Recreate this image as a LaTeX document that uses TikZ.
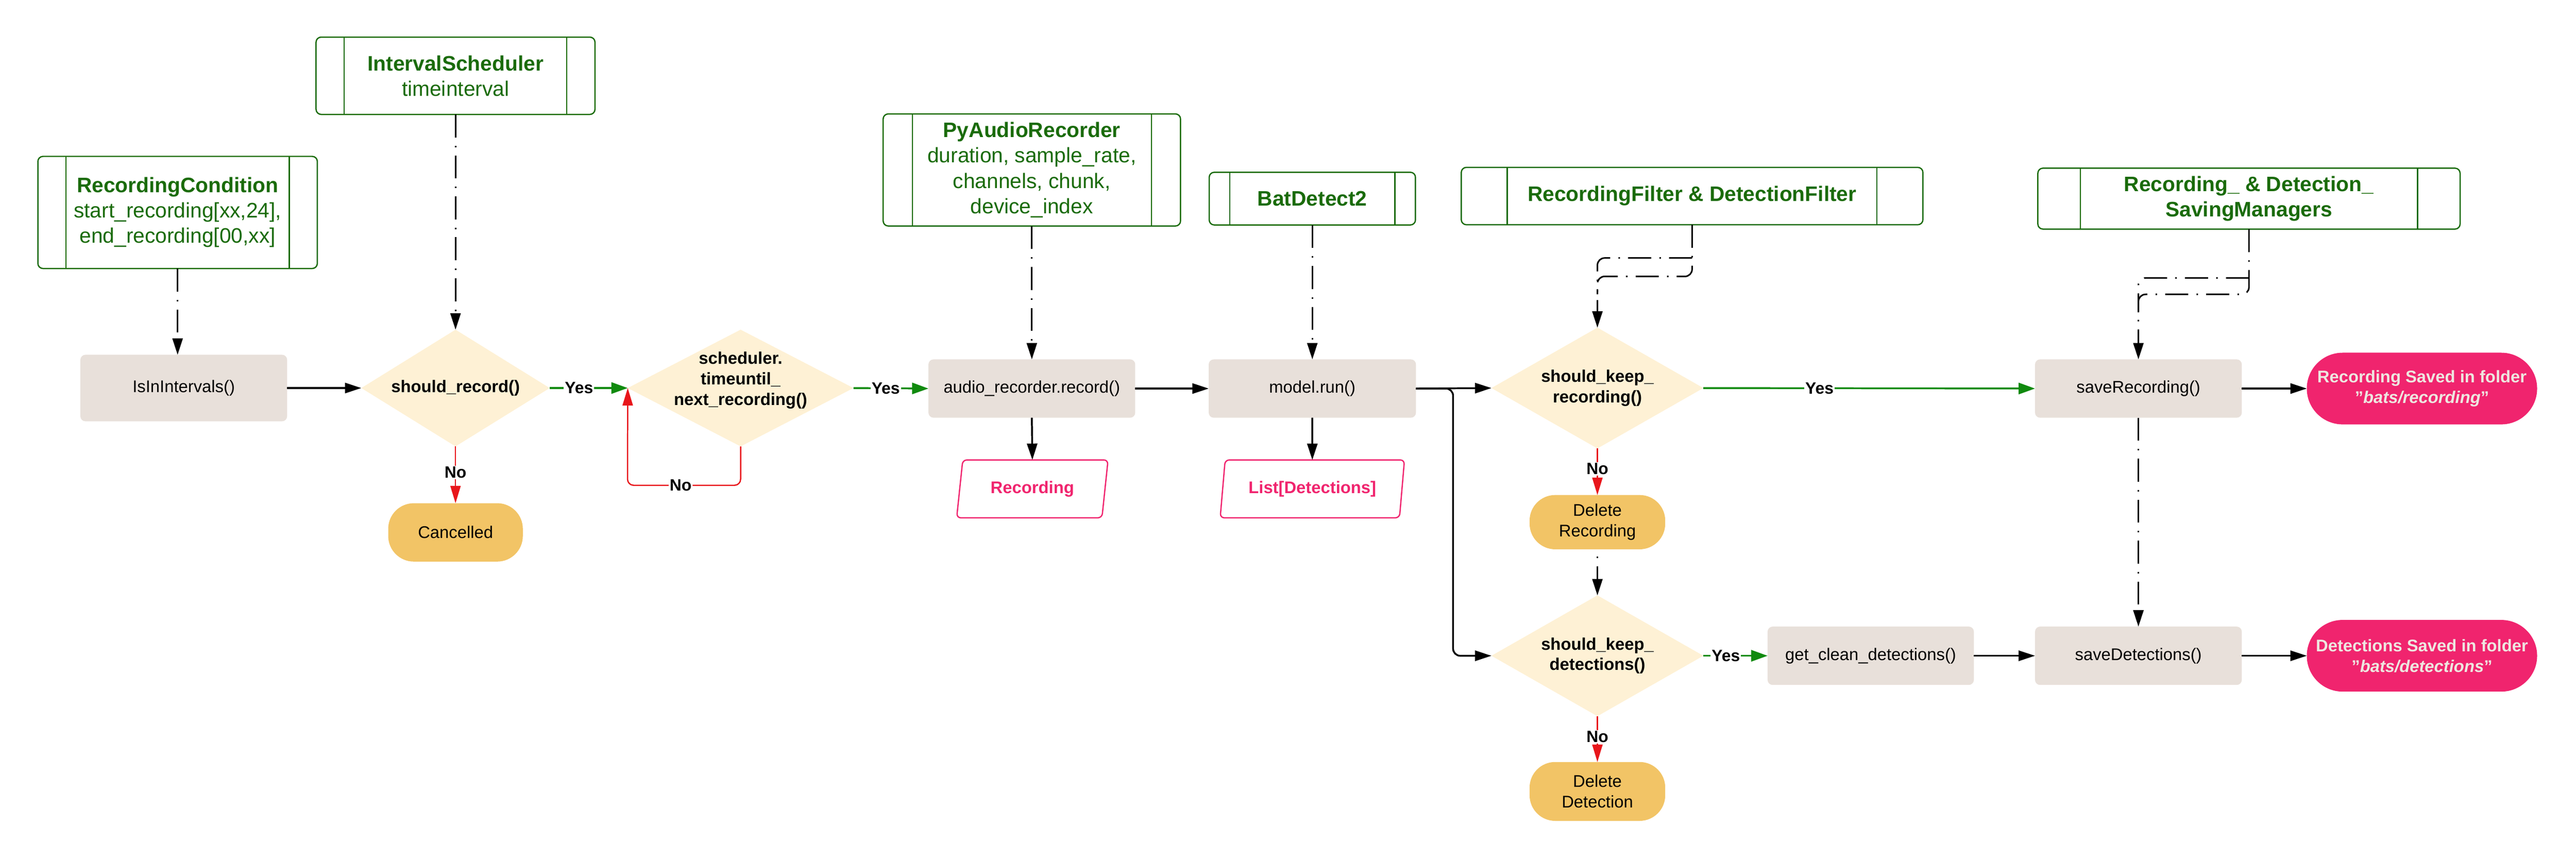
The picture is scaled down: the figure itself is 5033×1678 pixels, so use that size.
\documentclass[tikz,border=0pt]{standalone}
\usepackage{fontspec}
\setmainfont{Liberation Sans}
\usetikzlibrary{arrows.meta, shapes.geometric}
\definecolor{gtxt}{HTML}{1A6B0A}
\definecolor{gboxc}{HTML}{E8E0DA}
\definecolor{dfill}{HTML}{FEF1D5}
\definecolor{ofill}{HTML}{F2C466}
\definecolor{pinkc}{HTML}{F0246E}
\definecolor{ptxt}{HTML}{EEE6E0}
\definecolor{arrgreen}{HTML}{108A0E}
\definecolor{arrred}{HTML}{E8161B}
\tikzset{
  every node/.style={outer sep=0pt, font=\fontsize{33}{40}\selectfont},
  gbox/.style={draw=gtxt, line width=2.5pt, rounded corners=10pt, fill=white, text=gtxt,
    align=center, font=\fontsize{41}{49.5}\selectfont, inner sep=0pt},
  gline/.style={draw=gtxt, line width=2.5pt},
  proc/.style={fill=gboxc, rounded corners=10pt, minimum width=404pt, minimum height=114pt,
    inner sep=0pt, text=black},
  dec/.style={diamond, fill=dfill, inner sep=0pt},
  dtext/.style={font=\bfseries\fontsize{33}{40}\selectfont, align=center, inner sep=0pt},
  term/.style={fill=ofill, rounded corners=50pt, minimum width=265pt, minimum height=106pt,
    align=center, inner sep=0pt},
  pend/.style={fill=pinkc, rounded corners=70pt, minimum width=450pt, minimum height=140pt,
    text=ptxt, font=\bfseries\fontsize{33}{40}\selectfont, align=center, inner sep=0pt},
  para/.style={trapezium, trapezium left angle=77, trapezium right angle=103,
    trapezium stretches=true, draw=pinkc, line width=2.5pt, rounded corners=8pt,
    minimum width=296pt, minimum height=113pt, text=pinkc,
    font=\bfseries\fontsize{33}{40}\selectfont, inner sep=0pt},
  blk/.style={draw=black, line width=3.5pt, -{Triangle[length=32pt,width=20pt]}},
  grn/.style={draw=arrgreen, line width=3.5pt, -{Triangle[length=32pt,width=22pt]}},
  rd/.style={draw=arrred, line width=2.5pt, -{Triangle[length=34pt,width=20pt]}},
  ddash/.style={draw=black, line width=3pt, dash pattern=on 45pt off 16pt on 3pt off 16pt},
  dda/.style={ddash, -{Triangle[length=32pt,width=20pt]}},
  lbl/.style={fill=white, inner sep=2pt, font=\bfseries\fontsize{32}{38}\selectfont, text=black},
}
\begin{document}
\begin{tikzpicture}[x=1pt, y=-1pt]
\useasboundingbox (0,0) rectangle (5033,1678);

% green component boxes
\node[gbox, minimum width=546pt, minimum height=219pt] (rc) at (347,415)
  {\textbf{RecordingCondition}\\start\_recording[xx,24],\\end\_recording[00,xx]};
\node[gbox, minimum width=545pt, minimum height=151pt] (is) at (890,148)
  {\textbf{IntervalScheduler}\\timeinterval};
\node[gbox, minimum width=581pt, minimum height=219pt] (pa) at (2016,332)
  {\textbf{PyAudioRecorder}\\duration, sample\_rate,\\channels, chunk,\\device\_index};
\node[gbox, minimum width=403pt, minimum height=103pt] (bd) at (2564,388)
  {\textbf{BatDetect2}};
\node[gbox, minimum width=902pt, minimum height=112pt] (rf) at (3306,383)
  {\textbf{RecordingFilter \& DetectionFilter}};
\node[gbox, minimum width=825pt, minimum height=119pt] (sm) at (4394,388)
  {\textbf{Recording\_ \& Detection\_}\\\textbf{SavingManagers}};
\foreach \n/\d in {rc/55, is/55, pa/57, bd/40, rf/90, sm/83}{
  \draw[gline] ([xshift=\d pt]\n.north west) -- ([xshift=\d pt]\n.south west);
  \draw[gline] ([xshift=-\d pt]\n.north east) -- ([xshift=-\d pt]\n.south east);
}

% process boxes
\node[proc, minimum height=130pt] (ii) at (359,758) {IsInIntervals()};
\node[proc] (ar) at (2016,759) {audio\_recorder.record()};
\node[proc, minimum width=405pt] (mr) at (2564,759) {model.run()};
\node[proc] (sr) at (4178,759) {saveRecording()};
\node[proc, minimum width=403pt] (gc) at (3655,1281) {get\_clean\_detections()};
\node[proc] (sd) at (4178,1281) {saveDetections()};

% decisions
\node[dec, minimum width=368pt, minimum height=228pt,
  label={[dtext]center:should\_record()}] (d1) at (890,758) {};
\node[dec, minimum width=441pt, minimum height=228pt,
  label={[dtext,yshift=15pt]center:scheduler.\\timeuntil\_\\next\_recording()}] (d2) at (1447,758) {};
\node[dec, minimum width=414pt, minimum height=236pt,
  label={[dtext]center:should\_keep\_\\recording()}] (kr) at (3121,758) {};
\node[dec, minimum width=414pt, minimum height=236pt,
  label={[dtext]center:should\_keep\_\\detections()}] (kd) at (3121,1281) {};

% terminals
\node[term, minimum width=263pt, minimum height=114pt] (can) at (890,1040) {Cancelled};
\node[term] (drec) at (3121,1020) {Delete\\Recording};
\node[term, minimum height=115pt] (ddet) at (3121,1546) {Delete\\Detection};
\node[pend] (rs) at (4732,759) {Recording Saved in folder\\\symbol{34}\textit{bats/recording}\symbol{34}};
\node[pend] (ds) at (4732,1281) {Detections Saved in folder\\\symbol{34}\textit{bats/detections}\symbol{34}};

% data
\node[para] (rec) at (2017,955) {Recording};
\node[para, minimum width=361pt] (ld) at (2564,955) {List[Detections]};

% helper coordinates
\coordinate (nl1) at (1447,948);
\coordinate (nl2) at (1226,948);
\coordinate (br) at (2839,759);
\coordinate (fa) at (3306,540);
\coordinate (fb) at (3121,540);
\coordinate (fc) at (3306,504);
\coordinate (fd) at (3121,504);
\coordinate (fe) at (3121,575);
\coordinate (sa) at (4394,575);
\coordinate (sb) at (4178,575);
\coordinate (sc) at (4394,543);
\coordinate (sd2) at (4178,543);
\coordinate (se) at (4178,610);

% dash-dot dependencies
\draw[dda] (rc.south) -- (rc.south |- ii.north);
\draw[dda] (is.south) -- (d1.north);
\draw[dda] (pa.south) -- (ar.north);
\draw[dda] (bd.south) -- (mr.north);
\draw[dda, rounded corners=14pt] (rf.south) -- (fa) -- (fb) -- (kr.north);
\draw[ddash, rounded corners=14pt] (fc) -- (fd) -- (fe);
\draw[dda, rounded corners=14pt] (sm.south) -- (sa) -- (sb) -- (sr.north);
\draw[ddash, rounded corners=14pt] (sc) -- (sd2) -- (se);
\draw[dda, dash phase=47pt] (drec.south) -- (kd.north);
\draw[dda] (sr.south) -- (sd.north);

% black flow
\draw[blk] (ii.east) -- (d1.west);
\draw[blk] (ar.east) -- (mr.west);
\draw[blk] (ar.south) -- (rec.north);
\draw[blk] (mr.south) -- (ld.north);
\draw[blk] (mr.east) -- (kr.west);
\draw[blk, rounded corners=14pt] (mr.east) -- (br) |- (kd.west);
\draw[blk] (gc.east) -- (sd.west);
\draw[blk] (sr.east) -- (rs.west);
\draw[blk] (sd.east) -- (ds.west);

% yes branches
\draw[grn] (d1.east) -- node[lbl, pos=0.375] {Yes} (d2.west);
\draw[grn] (d2.east) -- node[lbl, pos=0.43] {Yes} (ar.west);
\draw[grn] (kr.east) -- node[lbl, pos=0.35] {Yes} (sr.west);
\draw[grn] (kd.east) -- node[lbl, pos=0.35] {Yes} (gc.west);

% no branches
\draw[rd] (d1.south) -- node[lbl, pos=0.46] {No} (can.north);
\draw[rd, rounded corners=12pt] (d2.south) -- (nl1) -- node[lbl, pos=0.53] {No} (nl2) -- (d2.west);
\draw[rd] (kr.south) -- node[lbl, pos=0.44] {No} (drec.north);
\draw[rd] (kd.south) -- node[lbl, pos=0.45] {No} (ddet.north);
\end{tikzpicture}
\end{document}
